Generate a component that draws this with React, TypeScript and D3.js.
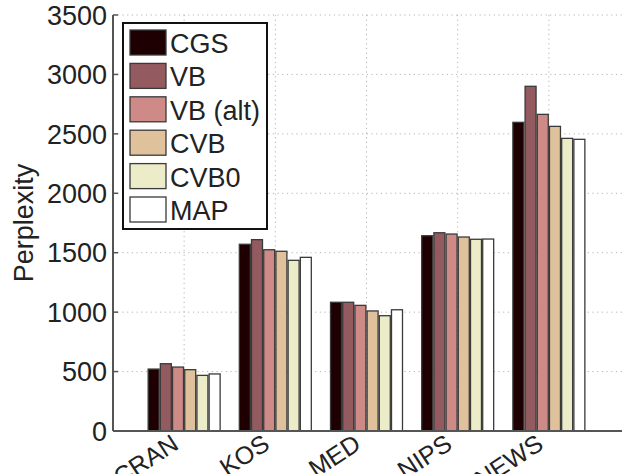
import { useEffect, useRef } from 'react'
import * as d3 from 'd3'

const datasets = ['CRAN', 'KOS', 'MED', 'NIPS', 'NEWS']
const methods = ['CGS', 'VB', 'VB (alt)', 'CVB', 'CVB0', 'MAP']
const colors = ['#1e0002', '#935a5f', '#cd8a86', '#dfc29b', '#ecedc8', '#ffffff']

// perplexity per method, one value per dataset
const cgs = [521, 1571, 1083, 1643, 2597]
const vb = [566, 1610, 1083, 1668, 2900]
const vbAlt = [538, 1525, 1057, 1657, 2664]
const cvb = [516, 1512, 1010, 1632, 2563]
const cvb0 = [468, 1436, 970, 1613, 2462]
const map = [480, 1461, 1020, 1615, 2454]

const yTicks = [0, 500, 1000, 1500, 2000, 2500, 3000, 3500]

export default function App() {
  const svgRef = useRef<SVGSVGElement>(null)

  useEffect(() => {
    if (!svgRef.current) return
    const width = 625
    const height = 474
    const svg = d3.select(svgRef.current)
    svg.selectAll('*').remove()
    svg.attr('width', width).attr('height', height)

    const font = '"Liberation Sans", Arial, sans-serif'
    const left = 113
    const right = 620
    const top = 15
    const bottom = 431

    const series = [cgs, vb, vbAlt, cvb, cvb0, map]

    const x = d3.scalePoint<string>().domain(datasets).range([left, right]).padding(0.78)
    const xInner = d3.scaleBand<string>()
      .domain(methods)
      .range([-36.6, 36.6])
      .paddingInner(0.1)
      .paddingOuter(0.05)
    const y = d3.scaleLinear().domain([0, 3500]).range([bottom, top])

    // grid
    const grid = svg.append('g')
    grid.selectAll('.hgrid')
      .data(yTicks.slice(1))
      .enter().append('line')
      .attr('x1', left).attr('x2', width)
      .attr('y1', d => y(d)).attr('y2', d => y(d))
      .attr('stroke', '#b4b4b4')
      .attr('stroke-dasharray', '1.2,3.5')
    grid.selectAll('.vgrid')
      .data(datasets)
      .enter().append('line')
      .attr('x1', d => x(d) || 0).attr('x2', d => x(d) || 0)
      .attr('y1', top).attr('y2', bottom)
      .attr('stroke', '#b4b4b4')
      .attr('stroke-dasharray', '1.2,3.5')

    // bars
    const groups = svg.selectAll('.group')
      .data(datasets)
      .enter().append('g')
      .attr('transform', d => `translate(${x(d)},0)`)

    groups.selectAll('rect')
      .data((_, i) => methods.map((m, j) => ({ m, v: series[j][i], c: colors[j] })))
      .enter().append('rect')
      .attr('x', d => xInner(d.m) || 0)
      .attr('width', xInner.bandwidth())
      .attr('y', d => y(d.v))
      .attr('height', d => y(0) - y(d.v))
      .attr('fill', d => d.c)
      .attr('stroke', '#3a3a3a')
      .attr('stroke-width', 1.3)

    // axes
    svg.append('line')
      .attr('x1', left).attr('x2', left)
      .attr('y1', top).attr('y2', bottom)
      .attr('stroke', '#555').attr('stroke-width', 2)
    svg.append('line')
      .attr('x1', left).attr('x2', right + 2)
      .attr('y1', bottom).attr('y2', bottom)
      .attr('stroke', '#555').attr('stroke-width', 2)

    svg.selectAll('.ytick')
      .data(yTicks)
      .enter().append('line')
      .attr('x1', left).attr('x2', left + 5)
      .attr('y1', d => y(d)).attr('y2', d => y(d))
      .attr('stroke', '#555').attr('stroke-width', 1.5)

    svg.selectAll('.ylabel')
      .data(yTicks)
      .enter().append('text')
      .attr('x', left - 6)
      .attr('y', d => y(d))
      .attr('dy', '0.36em')
      .attr('text-anchor', 'end')
      .style('font-family', font)
      .style('font-size', '27px')
      .style('fill', '#222')
      .text(d => d)

    // rotated category labels, cut by the bottom edge as in the original
    svg.selectAll('.xlabel')
      .data(datasets)
      .enter().append('text')
      .attr('transform', d => `translate(${(x(d) || 0) - 4},${bottom + 17}) rotate(-33)`)
      .attr('text-anchor', 'end')
      .style('font-family', font)
      .style('font-size', '25px')
      .style('fill', '#222')
      .text(d => d)

    svg.append('text')
      .attr('transform', `translate(33,${(top + bottom) / 2}) rotate(-90)`)
      .attr('text-anchor', 'middle')
      .style('font-family', font)
      .style('font-size', '27px')
      .style('fill', '#222')
      .text('Perplexity')

    // legend
    const legend = svg.append('g').attr('transform', 'translate(123,23)')
    legend.append('rect')
      .attr('width', 144).attr('height', 206)
      .attr('fill', '#fff')
      .attr('stroke', '#111').attr('stroke-width', 2)
    const rows = legend.selectAll('.row')
      .data(methods)
      .enter().append('g')
      .attr('transform', (_, i) => `translate(7,${7 + i * 33.4})`)
    rows.append('rect')
      .attr('width', 36).attr('height', 25)
      .attr('fill', (_, i) => colors[i])
      .attr('stroke', '#3a3a3a').attr('stroke-width', 1.3)
    rows.append('text')
      .attr('x', 40).attr('y', 23)
      .style('font-family', font)
      .style('font-size', '27px')
      .style('fill', '#222')
      .text(d => d)
  }, [])

  return (
    <svg ref={svgRef} style={{ position: 'absolute', left: 0, top: 0, display: 'block' }} />
  )
}
